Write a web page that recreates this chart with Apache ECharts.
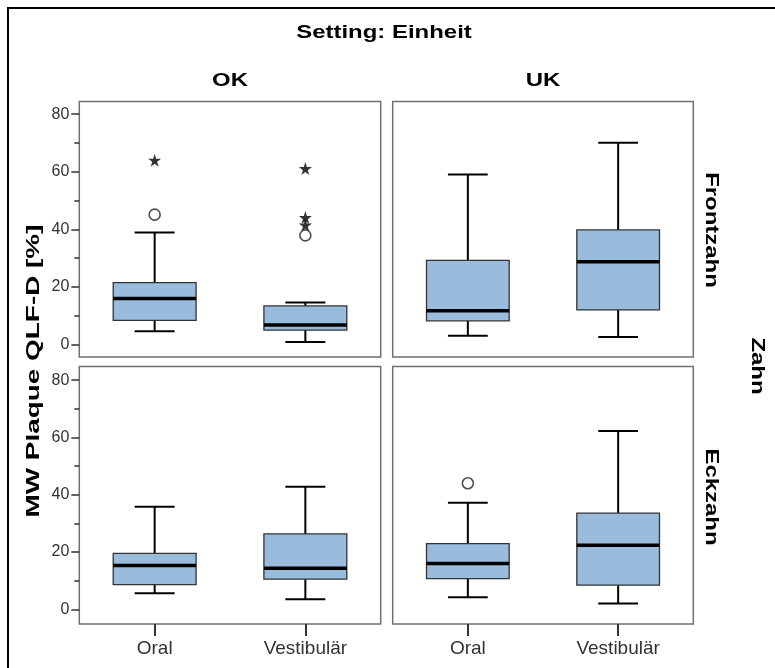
<!DOCTYPE html>
<html>
<head>
<meta charset="utf-8">
<script src="https://cdn.jsdelivr.net/npm/echarts@6/dist/echarts.min.js"></script>
<style>
  html, body { margin: 0; padding: 0; background: #fff; }
  #chart { width: 775px; height: 668px; }
</style>
</head>
<body>
<div id="chart"></div>
<script>
// ---- data ----
const categories = ['Oral', 'Vestibulär'];
const columnLabels = ['OK', 'UK'];
const rowLabels = ['Frontzahn', 'Eckzahn'];
const yTicks = [0, 20, 40, 60, 80];
const yMinorTicks = [10, 30, 50, 70];
// each box: [lower whisker, Q1, median, Q3, upper whisker]
const okFrontBox = [[4.6, 8.4, 16.0, 21.5, 38.9], [0.9, 5.0, 6.8, 13.4, 14.6]];
const ukFrontBox = [[3.0, 8.2, 11.7, 29.2, 59.0], [2.6, 12.0, 28.7, 39.8, 70.1]];
const okEckBox = [[5.6, 8.6, 15.3, 19.5, 35.8], [3.5, 10.5, 14.3, 26.3, 42.8]];
const ukEckBox = [[4.2, 10.7, 16.0, 22.9, 37.2], [2.0, 8.4, 22.4, 33.6, 62.3]];
// outliers (circles) and extremes (stars): [category index, value]
const okFrontOutliers = [[0, 45.1], [1, 37.9]];
const okFrontExtremes = [[0, 64.0], [1, 61.1], [1, 44.1], [1, 41.5]];
const ukEckOutliers = [[0, 44.0]];

// ---- chart ----
const chart = echarts.init(document.getElementById('chart'), null, { renderer: 'canvas' });
const FONT = 'Liberation Sans, Arial, sans-serif';
const STAR = 'path://M50,0 L61,35 L98,35 L68,57 L79,91 L50,70 L21,91 L32,57 L2,35 L39,35 Z';

const gridDefs = [
  { left: 79.3, top: 101.5, width: 301.4, height: 255.5 },
  { left: 392.7, top: 101.5, width: 300.6, height: 255.5 },
  { left: 79.3, top: 366.5, width: 301.4, height: 257.5 },
  { left: 392.7, top: 366.5, width: 300.6, height: 257.5 }
];
const ranges = [[-4.35, 84.4], [-4.35, 84.4], [-5.15, 84.8], [-5.15, 84.8]];

const grids = gridDefs.map(g => Object.assign({
  show: true, borderColor: '#707070', borderWidth: 1.5, backgroundColor: 'transparent'
}, g));

const xAxes = gridDefs.map((g, i) => ({
  type: 'category', gridIndex: i, data: categories, boundaryGap: true,
  show: i >= 2, position: 'bottom',
  axisLine: { show: false, onZero: false },
  axisTick: { show: true, inside: false, alignWithLabel: true, length: 12, lineStyle: { color: '#333', width: 2 } },
  axisLabel: { fontSize: 19, color: '#333', fontFamily: FONT, margin: 15 },
  splitLine: { show: false }
}));

const yAxes = gridDefs.map((g, i) => ({
  type: 'value', gridIndex: i, min: ranges[i][0], max: ranges[i][1],
  show: i % 2 === 0, position: 'left',
  axisLine: { show: false },
  splitLine: { show: false },
  axisTick: { show: true, length: 8, customValues: yTicks, lineStyle: { color: '#333', width: 1.5 } },
  axisLabel: { show: true, customValues: yTicks, fontSize: 16, color: '#333', fontFamily: FONT, margin: 10 }
}));
// minor ticks on left panels
[0, 2].forEach(i => {
  yAxes.push({
    type: 'value', gridIndex: i, min: ranges[i][0], max: ranges[i][1], position: 'left', offset: 0,
    axisLine: { show: false }, splitLine: { show: false },
    axisTick: { show: true, length: 5, customValues: yMinorTicks, lineStyle: { color: '#333', width: 1.5 } },
    axisLabel: { show: false }
  });
});

function renderBox(params, api) {
  const c = api.value(0);
  const lo = api.coord([c, api.value(1)]);
  const q1 = api.coord([c, api.value(2)]);
  const med = api.coord([c, api.value(3)]);
  const q3 = api.coord([c, api.value(4)]);
  const hi = api.coord([c, api.value(5)]);
  const band = api.size([1, 0])[0];
  const bw = band * 0.55, cw = band * 0.265;
  const x = lo[0];
  const wStyle = { stroke: '#000', lineWidth: 2 };
  return {
    type: 'group',
    children: [
      { type: 'line', shape: { x1: x, y1: lo[1], x2: x, y2: q1[1] }, style: wStyle },
      { type: 'line', shape: { x1: x, y1: q3[1], x2: x, y2: hi[1] }, style: wStyle },
      { type: 'line', shape: { x1: x - cw / 2, y1: lo[1], x2: x + cw / 2, y2: lo[1] }, style: wStyle },
      { type: 'line', shape: { x1: x - cw / 2, y1: hi[1], x2: x + cw / 2, y2: hi[1] }, style: wStyle },
      { type: 'rect', shape: { x: x - bw / 2, y: q3[1], width: bw, height: q1[1] - q3[1] },
        style: { fill: '#99bcdd', stroke: '#333', lineWidth: 1.3 } },
      { type: 'line', shape: { x1: x - bw / 2, y1: med[1], x2: x + bw / 2, y2: med[1] },
        style: { stroke: '#000', lineWidth: 3.5 } }
    ]
  };
}

const boxSets = [okFrontBox, ukFrontBox, okEckBox, ukEckBox];
const series = boxSets.map((set, i) => ({
  type: 'custom', xAxisIndex: i, yAxisIndex: i,
  renderItem: renderBox,
  data: set.map((b, k) => [k].concat(b)),
  encode: { x: 0, y: [1, 2, 3, 4, 5] },
  silent: true, z: 2
}));

series.push({
  type: 'scatter', xAxisIndex: 0, yAxisIndex: 0, data: okFrontExtremes,
  symbol: STAR, symbolSize: 13, itemStyle: { color: '#000' }, z: 3, silent: true
});
series.push({
  type: 'scatter', xAxisIndex: 0, yAxisIndex: 0, data: okFrontOutliers,
  symbol: 'circle', symbolSize: 11,
  itemStyle: { color: '#fff', borderColor: '#222', borderWidth: 1.6 }, z: 4, silent: true
});
series.push({
  type: 'scatter', xAxisIndex: 3, yAxisIndex: 3, data: ukEckOutliers,
  symbol: 'circle', symbolSize: 11,
  itemStyle: { color: '#fff', borderColor: '#222', borderWidth: 1.6 }, z: 4, silent: true
});

function boldText(text, x, y, rotation, sx) {
  return {
    type: 'text', x: x, y: y, rotation: rotation || 0, scaleX: sx || 1.33, scaleY: 1,
    style: { text: text, fill: '#000', font: 'bold 18px ' + FONT, align: 'center', verticalAlign: 'middle' },
    silent: true
  };
}

const graphic = [
  { type: 'rect', shape: { x: 8, y: 8, width: 800, height: 700 },
    style: { fill: 'none', stroke: '#000', lineWidth: 2 }, silent: true, z: 0 },
  boldText('Setting: Einheit', 384, 33),
  boldText(columnLabels[0], 230, 81),
  boldText(columnLabels[1], 543, 81),
  boldText(rowLabels[0], 711, 230, -Math.PI / 2),
  boldText(rowLabels[1], 711, 497, -Math.PI / 2),
  boldText('Zahn', 757, 366, -Math.PI / 2),
  boldText('MW Plaque QLF-D [%]', 34, 371, Math.PI / 2, 1.55)
];

chart.setOption({
  animation: false,
  backgroundColor: '#fff',
  grid: grids,
  xAxis: xAxes,
  yAxis: yAxes,
  series: series,
  graphic: graphic
});
</script>
</body>
</html>
